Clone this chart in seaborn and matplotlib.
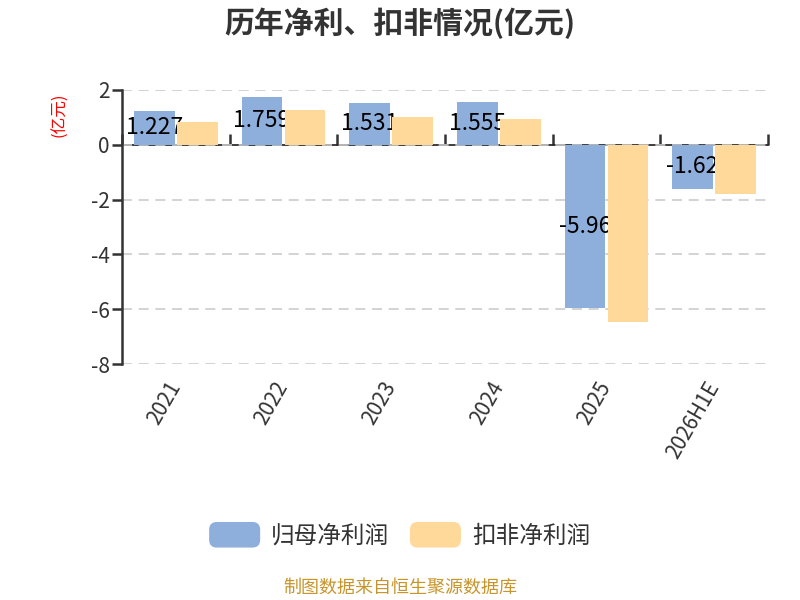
import matplotlib
matplotlib.use("Agg")
import matplotlib.pyplot as plt
import pandas as pd
import seaborn as sns
from matplotlib.patches import FancyBboxPatch
from matplotlib.legend_handler import HandlerPatch

# --- data (亿元) ---
years = ["2021", "2022", "2023", "2024", "2025", "2026H1E"]
net_profit = [1.227, 1.759, 1.531, 1.555, -5.96, -1.62]     # 归母净利润
deducted_profit = [0.82, 1.27, 1.02, 0.93, -6.45, -1.80]    # 扣非净利润
series_names = ["归母净利润", "扣非净利润"]
yticks = [2, 0, -2, -4, -6, -8]

colors = ["#8eaedb", "#ffd999"]
dark = "#333333"

df = pd.DataFrame({
    "year": years * 2,
    "value": net_profit + deducted_profit,
    "series": [series_names[0]] * len(years) + [series_names[1]] * len(years),
})

sns.set_theme(style="white")
plt.rcParams["font.family"] = ["Noto Sans CJK SC", "DejaVu Sans"]
plt.rcParams["axes.unicode_minus"] = False

fig = plt.figure(figsize=(8, 6), dpi=100)
ax = fig.add_axes([0.1525, 0.3933, 0.8075, 0.4567])

sns.barplot(data=df, x="year", y="value", hue="series", palette=colors,
            width=0.8, gap=0.05, ax=ax, legend=False, saturation=1, linewidth=0)

# blue bars under the labels, orange bars over them (labels get clipped like the original)
for p in ax.containers[0]:
    p.set_zorder(2)
for p in ax.containers[1]:
    p.set_zorder(4)

texts = ax.bar_label(ax.containers[0], labels=[f"{v:g}" for v in net_profit],
                     label_type="center", fontsize=16.5, color="black")
for t in texts:
    t.set_zorder(3)

ymin, ymax = min(yticks), max(yticks)
ax.set_ylim(ymin, ymax)
ax.set_xlim(-0.5, len(years) - 0.5)
ax.set_yticks(yticks)
ax.set_yticklabels([str(v) for v in yticks])
ax.yaxis.grid(True, linestyle=(0, (6, 4)), color="#cccccc", linewidth=1.2)
ax.set_axisbelow(True)
ax.set_xlabel("")
ax.set_ylabel("")

for s in ["top", "right", "bottom"]:
    ax.spines[s].set_visible(False)
ax.spines["left"].set_color(dark)
ax.spines["left"].set_linewidth(1.8)
ax.tick_params(axis="y", direction="out", length=7, width=1.8, color=dark,
               labelsize=15, labelcolor=dark, left=True, pad=2)

# category labels at the bottom, rotated
ax.set_xticks(range(len(years)))
ax.set_xticklabels(years, rotation=60, ha="right", va="center", rotation_mode="anchor")
ax.tick_params(axis="x", length=0, labelsize=15, labelcolor=dark, pad=14)

# zero line with boundary ticks
sec = ax.secondary_xaxis((0 - ymin) / (ymax - ymin))
sec.set_xticks([i - 0.5 for i in range(len(years) + 1)])
sec.set_xticklabels([])
sec.spines["bottom"].set_color(dark)
sec.spines["bottom"].set_linewidth(1.8)
sec.tick_params(axis="x", direction="out", length=8, width=1.8, color=dark)

fig.text(0.5, 0.962, "历年净利、扣非情况(亿元)", ha="center", va="center",
         fontsize=21.5, fontweight="bold", color=dark)
fig.text(0.075, 0.808, "(亿元)", ha="center", va="center", rotation=90,
         fontsize=12, color="red")
fig.text(0.5, 0.02, "制图数据来自恒生聚源数据库", ha="center", va="center",
         fontsize=13, color="#c8952b")


def rounded_handle(legend, orig_handle, xdescent, ydescent, width, height, fontsize):
    return FancyBboxPatch((-xdescent, -ydescent), width, height,
                          boxstyle="round,pad=0,rounding_size=5")


handles = [plt.Rectangle((0, 0), 1, 1, color=c) for c in colors]
fig.legend(handles, series_names, loc="center", bbox_to_anchor=(0.5, 0.108), ncol=2,
           frameon=False, fontsize=17, handlelength=2.1, handleheight=1.2,
           handletextpad=0.5, columnspacing=0.9, labelcolor=dark,
           handler_map={plt.Rectangle: HandlerPatch(patch_func=rounded_handle)})

fig.savefig("out.png", dpi=100)
